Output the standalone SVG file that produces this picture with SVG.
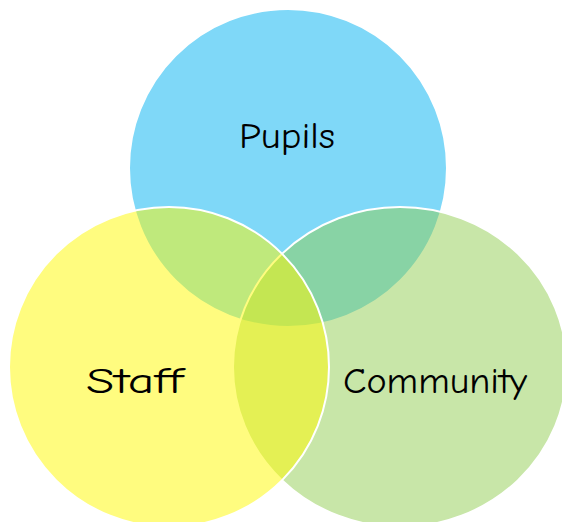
<svg xmlns="http://www.w3.org/2000/svg" width="562" height="522" viewBox="0 0 562 522">
  <style>
    .set { stroke: #ffffff; stroke-width: 2; }
    .label { font-family: "Comic Sans MS", "Comic Neue", "Liberation Sans", sans-serif; font-size: 37px; fill: #000000; text-anchor: start; }
  </style>
  <rect x="0" y="0" width="562" height="522" fill="#ffffff"/>
  <g id="pupils">
    <circle class="set" cx="288" cy="168" r="159" fill="#7FD8F8"/>
  </g>
  <g id="community">
    <ellipse class="set" cx="400" cy="367" rx="167" ry="160" fill="#91CD51" fill-opacity="0.5"/>
  </g>
  <g id="staff">
    <circle class="set" cx="169" cy="367" r="160" fill="#FFF900" fill-opacity="0.5"/>
  </g>
  <g id="connectors"></g>
  <g id="labels">
    <text class="label" x="239" y="148" textLength="96" lengthAdjust="spacingAndGlyphs">Pupils</text>
    <text class="label" x="86" y="393" textLength="97" lengthAdjust="spacingAndGlyphs">Staff</text>
    <text class="label" x="343" y="393" textLength="184" lengthAdjust="spacingAndGlyphs">Community</text>
  </g>
</svg>
